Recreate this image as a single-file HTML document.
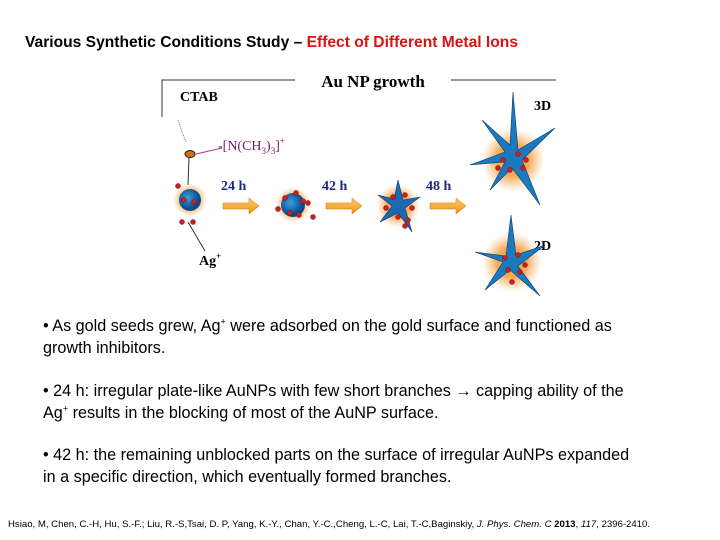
<!DOCTYPE html>
<html><head><meta charset="utf-8"><style>
body{margin:0;background:#fff}
#slide{position:relative;width:720px;height:540px;overflow:hidden;background:#fff;font-family:"Liberation Sans",sans-serif}
.t{position:absolute;white-space:nowrap}
</style></head><body>
<div id="slide">
<div class="t" style="left:25px;top:34px;font-size:15.6px;font-weight:bold;color:#000">Various Synthetic Conditions Study – <span style="color:#e01010">Effect of Different Metal Ions</span></div>

<svg width="720" height="300" style="position:absolute;left:0;top:0" xmlns="http://www.w3.org/2000/svg">
<defs>
<radialGradient id="glow"><stop offset="0.5" stop-color="#f5a040" stop-opacity="0.9"/><stop offset="1" stop-color="#f8c080" stop-opacity="0"/></radialGradient>
<radialGradient id="core" cx="0.4" cy="0.4"><stop offset="0" stop-color="#3aa0e0"/><stop offset="1" stop-color="#0a4a90"/></radialGradient>
<linearGradient id="arr" x1="0" y1="0" x2="0" y2="1"><stop offset="0" stop-color="#fcd070"/><stop offset="1" stop-color="#f09010"/></linearGradient>
</defs>
<g stroke="#333" stroke-width="1" fill="none">
<path d="M162,117 V80 H295"/><path d="M451,80 H556"/>
</g>
<text x="373" y="87" font-family="Liberation Serif,serif" font-weight="bold" font-size="17" text-anchor="middle">Au NP growth</text>
<text x="180" y="101" font-family="Liberation Serif,serif" font-weight="bold" font-size="14">CTAB</text>
<text x="534" y="110" font-family="Liberation Serif,serif" font-weight="bold" font-size="14">3D</text>
<text x="534" y="250" font-family="Liberation Serif,serif" font-weight="bold" font-size="14">2D</text>
<text x="218" y="150" font-family="Liberation Serif,serif" font-size="14" fill="#7a1a6a">-[N(CH<tspan font-size="9" dy="4">3</tspan><tspan dy="-4">)</tspan><tspan font-size="9" dy="4">3</tspan><tspan dy="-4">]</tspan><tspan font-size="9" dy="-6">+</tspan></text>
<line x1="196" y1="154" x2="222" y2="148" stroke="#a04090"/>
<path d="M178,120 L182,132 L186,142" stroke="#777" fill="none" stroke-dasharray="1,1"/>
<ellipse cx="190" cy="154" rx="5" ry="3.5" fill="#d07010" stroke="#222"/>
<line x1="189" y1="157" x2="188" y2="185" stroke="#333"/>
<text x="199" y="265" font-family="Liberation Serif,serif" font-weight="bold" font-size="14">Ag<tspan font-size="9" dy="-6">+</tspan></text>
<line x1="188" y1="222" x2="205" y2="251" stroke="#333"/>
<g font-family="Liberation Serif,serif" font-weight="bold" font-size="14" fill="#1a2a80">
<text x="221" y="190">24 h</text>
<text x="322" y="190">42 h</text>
<text x="426" y="190">48 h</text>
</g>
<g fill="url(#arr)" stroke="#d07010" stroke-width="0.5">
<path d="M223,203 h26 v-5 l10,8 l-10,8 v-5 h-26z"/>
<path d="M326,203 h26 v-5 l10,8 l-10,8 v-5 h-26z"/>
<path d="M430,203 h26 v-5 l10,8 l-10,8 v-5 h-26z"/>
</g>
<g>
<circle cx="190" cy="200" r="17" fill="url(#glow)"/><circle cx="190" cy="200" r="11" fill="url(#core)"/>
</g>
<g>
<circle cx="293" cy="205" r="18" fill="url(#glow)"/><circle cx="293" cy="205" r="12" fill="url(#core)"/>
</g>
<g>
<circle cx="398" cy="206" r="22" fill="url(#glow)"/>
<polygon points="398,180 403,200 420,197 405,208 412,232 398,213 380,222 392,206 378,195 394,199" fill="#1a6ab0" stroke="#0a3a70" stroke-width="0.6"/>
</g>
<g>
<circle cx="513" cy="160" r="32" fill="url(#glow)"/>
<polygon points="513,92 518,150 555,128 522,160 540,205 512,168 490,190 505,162 470,165 505,152 482,120 510,145" fill="#1a7ac0" stroke="#0a3a70" stroke-width="0.6"/>
</g>
<g>
<circle cx="512" cy="262" r="30" fill="url(#glow)"/>
<polygon points="511,215 516,255 545,245 518,266 540,296 510,270 485,290 503,262 475,252 506,256" fill="#1a7ac0" stroke="#0a3a70" stroke-width="0.6"/>
</g>
<g fill="#c82020" stroke="#801010" stroke-width="0.5">
<circle cx="178" cy="186" r="2.5"/><circle cx="184" cy="200" r="2.5"/><circle cx="194" cy="202" r="2.5"/><circle cx="182" cy="222" r="2.5"/><circle cx="193" cy="222" r="2.5"/>
<circle cx="285" cy="198" r="2.5"/><circle cx="296" cy="193" r="2.5"/><circle cx="303" cy="201" r="2.5"/><circle cx="290" cy="213" r="2.5"/><circle cx="299" cy="215" r="2.5"/><circle cx="278" cy="209" r="2.5"/><circle cx="313" cy="217" r="2.5"/><circle cx="308" cy="203" r="2.5"/>
<circle cx="393" cy="197" r="2.5"/><circle cx="405" cy="195" r="2.5"/><circle cx="412" cy="208" r="2.5"/><circle cx="398" cy="217" r="2.5"/><circle cx="408" cy="220" r="2.5"/><circle cx="386" cy="208" r="2.5"/><circle cx="405" cy="226" r="2.5"/>
<circle cx="503" cy="160" r="2.5"/><circle cx="518" cy="154" r="2.5"/><circle cx="526" cy="160" r="2.5"/><circle cx="510" cy="170" r="2.5"/><circle cx="523" cy="168" r="2.5"/><circle cx="498" cy="168" r="2.5"/>
<circle cx="505" cy="258" r="2.5"/><circle cx="518" cy="255" r="2.5"/><circle cx="525" cy="265" r="2.5"/><circle cx="508" cy="270" r="2.5"/><circle cx="520" cy="272" r="2.5"/><circle cx="512" cy="282" r="2.5"/>
</g>
</svg>

<div style="position:absolute;left:43px;top:315px;width:660px;font-size:16.2px;line-height:22px;color:#000">
<div style="position:absolute;top:0;white-space:nowrap">• As gold seeds grew, Ag<sup style="font-size:9px;line-height:0">+</sup> were adsorbed on the gold surface and functioned as<br>growth inhibitors.</div>
<div style="position:absolute;top:65px;white-space:nowrap">• 24 h: irregular plate-like AuNPs with few short branches → capping ability of the<br>Ag<sup style="font-size:9px;line-height:0">+</sup> results in the blocking of most of the AuNP surface.</div>
<div style="position:absolute;top:129px;white-space:nowrap">• 42 h: the remaining unblocked parts on the surface of irregular AuNPs expanded<br>in a specific direction, which eventually formed branches.</div>
</div>

<div class="t" style="left:8px;top:519px;font-size:9.6px;color:#000">Hsiao, M, Chen, C.-H, Hu, S.-F.; Liu, R.-S,Tsai, D. P, Yang, K.-Y., Chan, Y.-C.,Cheng, L.-C, Lai, T.-C,Baginskiy, <i>J. Phys. Chem. C</i> <b>2013</b>, <i>117</i>, 2396-2410.</div>
</div>
</body></html>
